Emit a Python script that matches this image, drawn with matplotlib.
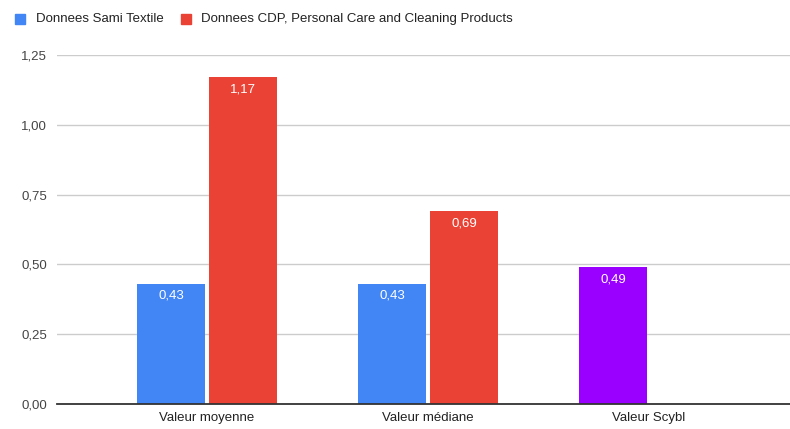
import matplotlib.pyplot as plt
import numpy as np

plt.rcParams['font.family'] = ['Liberation Sans', 'DejaVu Sans']

# Données
categories = ["Valeur moyenne", "Valeur médiane", "Valeur Scybl"]
serie_sami = [0.43, 0.43, 0.49]
serie_cdp = [1.17, 0.69, None]
noms_series = ["Donnees Sami Textile", "Donnees CDP, Personal Care and Cleaning Products"]
couleurs_sami = ['#4285F4', '#4285F4', '#9900FF']
couleur_cdp = '#EA4335'
yticks = [0, 0.25, 0.5, 0.75, 1.0, 1.25]

def fmt(v):
    return f"{v:.2f}".replace('.', ',')

fig = plt.figure(figsize=(7.9, 4.29), dpi=100)
ax = fig.add_axes([57 / 790, 25 / 429, 733 / 790, 349 / 429])

x = np.arange(len(categories))
larg = 0.308
dec = 0.163

# barres Sami (dernière en violet)
for i, v in enumerate(serie_sami):
    ax.bar(x[i] - dec, v, width=larg, color=couleurs_sami[i], zorder=3)
    ax.text(x[i] - dec, v - 0.043, fmt(v), ha='center', va='center',
            color='white', fontsize=9.5, zorder=4)

# barres CDP
for i, v in enumerate(serie_cdp):
    if v is None:
        continue
    ax.bar(x[i] + dec, v, width=larg, color=couleur_cdp, zorder=3)
    ax.text(x[i] + dec, v - 0.043, fmt(v), ha='center', va='center',
            color='white', fontsize=9.5, zorder=4)

ax.set_xlim(-150 / 221, 583 / 221)
ax.set_ylim(0, 1.25)
ax.set_yticks(yticks)
ax.set_yticklabels([fmt(t) for t in yticks], color='#444444', fontsize=9.5)
ax.set_xticks(x)
ax.set_xticklabels(categories, color='#222222', fontsize=9.5)
ax.tick_params(axis='both', length=0)
ax.tick_params(axis='y', pad=7)
ax.tick_params(axis='x', pad=6)

ax.grid(axis='y', color='#cccccc', linewidth=1, zorder=0)
for s in ['top', 'right', 'left']:
    ax.spines[s].set_visible(False)
ax.spines['bottom'].set_color('#333333')
ax.spines['bottom'].set_linewidth(1.3)
ax.spines['bottom'].set_zorder(5)

# légende en haut
fig.patches.append(plt.Rectangle((15 / 790, 1 - 24 / 429), 10 / 790, 10 / 429,
                                 transform=fig.transFigure, color='#4285F4'))
fig.text(36 / 790, 1 - 19 / 429, noms_series[0], color='#222222', fontsize=9.5, va='center')
fig.patches.append(plt.Rectangle((181 / 790, 1 - 24 / 429), 10 / 790, 10 / 429,
                                 transform=fig.transFigure, color=couleur_cdp))
fig.text(201 / 790, 1 - 19 / 429, noms_series[1], color='#222222', fontsize=9.5, va='center')

fig.savefig('out.png', dpi=100)
